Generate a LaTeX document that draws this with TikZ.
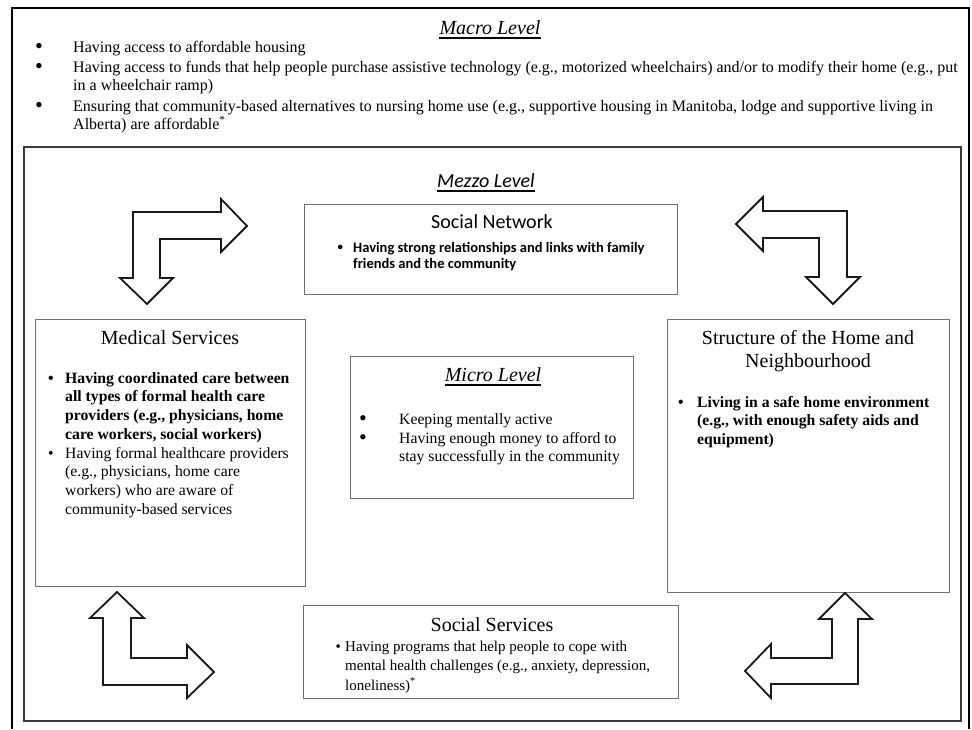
\documentclass[tikz,border=0pt]{standalone}
\usepackage{fontspec}
\usepackage{graphicx}
\setmainfont{Liberation Serif}
\newfontfamily\calfont{Carlito}
\definecolor{boxgray}{HTML}{6E6E6E}
\definecolor{framegray}{HTML}{3A3A3A}
\newcommand\bitem[3]{\makebox[#1][l]{\textbullet}\parbox[t]{#2}{\raggedright #3}}
\newcommand\bigbul{\smash{\raisebox{-0.12em}{\scalebox{1.4}{\textbullet}}}}
\newcommand\smallbul{\smash{\raisebox{0.08em}{\scalebox{0.75}{\textbullet}}}}
\newcommand\Bitem[3]{\makebox[#1][l]{\bigbul}\parbox[t]{#2}{\raggedright #3}}
\newcommand\Sitem[3]{\makebox[#1][l]{\smallbul}\parbox[t]{#2}{\raggedright #3}}
\begin{document}
\begin{tikzpicture}[x=1pt,y=-1pt,
  txt/.style={inner sep=0pt, anchor=base west},
  ttl/.style={inner sep=0pt, anchor=base},
  body/.style={font=\fontsize{15.7}{18.7}\selectfont},
  bodyb/.style={font=\bfseries\fontsize{15.7}{18.7}\selectfont},
  head/.style={font=\fontsize{20}{23}\selectfont},
  headi/.style={font=\itshape\fontsize{20}{23}\selectfont},
  box/.style={draw=boxgray, line width=1.3pt, inner sep=0pt, anchor=north west, fill=white},
  bigarrow/.style={draw=black!90, line width=1.8pt, line join=miter, fill=white},
  uline/.style={line width=1.3pt}
]
\useasboundingbox (0,0) rectangle (972,729);
\fill[white] (0,0) rectangle (972,729);

% outer frame (macro level)
\draw[line width=2.2pt] (12,729) -- (12,8) -- (969,8) -- (969,729);

% macro level
\node[ttl, headi] (macro) at (490,34) {Macro Level};
\draw[uline] ([yshift=-4pt]macro.base west) -- ([yshift=-4pt]macro.base east);
\node[txt, font=\fontsize{16}{18.5}\selectfont] (m1) at (35,52) {\Bitem{38pt}{900pt}{Having access to affordable housing}};
\node[txt, font=\fontsize{16}{18.5}\selectfont] (m2) at (35,72) {\Bitem{38pt}{900pt}{Having access to funds that help people purchase assistive technology (e.g., motorized wheelchairs) and/or to modify their home (e.g., put\\in a wheelchair ramp)}};
\node[txt, font=\fontsize{16}{18.5}\selectfont] (m3) at (35,111) {\Bitem{38pt}{900pt}{Ensuring that community-based alternatives to nursing home use (e.g., supportive housing in Manitoba, lodge and supportive living in\\Alberta) are affordable\textsuperscript{*}}};

% mezzo box
\draw[draw=framegray, line width=2pt] (24,147) rectangle (961,721);
\node[ttl, font=\calfont\itshape\fontsize{20}{23}\selectfont] (mezzo) at (486,187) {Mezzo Level};
\draw[uline] ([yshift=-4pt]mezzo.base west) -- ([yshift=-4pt]mezzo.base east);

% boxes
\node[box, minimum width=373pt, minimum height=90pt] (snbox) at (304,204) {};
\node[box, minimum width=270pt, minimum height=267pt] (medbox) at (35,319) {};
\node[box, minimum width=283pt, minimum height=142pt] (micbox) at (350,356) {};
\node[box, minimum width=282pt, minimum height=273pt] (strbox) at (667,319) {};
\node[box, minimum width=375pt, minimum height=93pt] (ssbox) at (303,605) {};

% social network
\node[ttl, font=\calfont\fontsize{20}{23}\selectfont] (sntitle) at (492,228) {Social Network};
\node[txt, font=\calfont\bfseries\fontsize{14.5}{16.5}\selectfont] (sn1) at (337.5,252) {\Sitem{15.5pt}{330pt}{Having strong relationships and links with family\\friends and the community}};

% medical services
\node[ttl, head] (medtitle) at (170,344) {Medical Services};
\node[txt, bodyb] (med1) at (48,383) {\bitem{17pt}{250pt}{Having coordinated care between\\all types of formal health care\\providers (e.g., physicians, home\\care workers, social workers)}};
\node[txt, body] (med2) at (48,458) {\bitem{17pt}{250pt}{Having formal healthcare providers\\(e.g., physicians, home care\\workers) who are aware of\\community-based services}};

% micro level
\node[ttl, headi] (micro) at (493,381) {Micro Level};
\draw[uline] ([yshift=-4pt]micro.base west) -- ([yshift=-4pt]micro.base east);
\node[txt, body] (mic1) at (359,424) {\Bitem{40pt}{250pt}{Keeping mentally active}};
\node[txt, body] (mic2) at (359,443) {\Bitem{40pt}{250pt}{Having enough money to afford to\\stay successfully in the community}};

% structure of the home
\node[ttl, head] (st1) at (808,344) {Structure of the Home and};
\node[ttl, head] (st2) at (808,367) {Neighbourhood};
\node[txt, bodyb] (str1) at (678,407) {\bitem{19pt}{260pt}{Living in a safe home environment\\(e.g., with enough safety aids and\\equipment)}};

% social services
\node[ttl, head] (sstitle) at (492,631) {Social Services};
\node[txt, font=\fontsize{15}{19.5}\selectfont] (ss1) at (335.5,651) {\bitem{9.5pt}{340pt}{Having programs that help people to cope with\\mental health challenges (e.g., anxiety, depression,\\loneliness)\textsuperscript{*}}};

% bent arrows
\draw[bigarrow] (133,278) -- (133,212) -- (221,212) -- (221,199) -- (247,226) -- (221,252) -- (221,239) -- (160,239) -- (160,278) -- (173,278) -- (147,304) -- (120,278) -- cycle;
\draw[bigarrow] (763,211) -- (847,211) -- (847,277) -- (860,277) -- (833,304) -- (806,277) -- (819,277) -- (819,238) -- (763,238) -- (763,251) -- (736,224) -- (763,197) -- cycle;
\draw[bigarrow] (103,618) -- (90,618) -- (117,592) -- (144,618) -- (131,618) -- (131,658) -- (187,658) -- (187,645) -- (214,672) -- (187,698) -- (187,685) -- (103,685) -- cycle;
\draw[bigarrow] (832,619) -- (819,619) -- (845,593) -- (872,619) -- (858,619) -- (858,684) -- (771,684) -- (771,698) -- (745,671) -- (771,644) -- (771,658) -- (832,658) -- cycle;
\end{tikzpicture}
\end{document}
